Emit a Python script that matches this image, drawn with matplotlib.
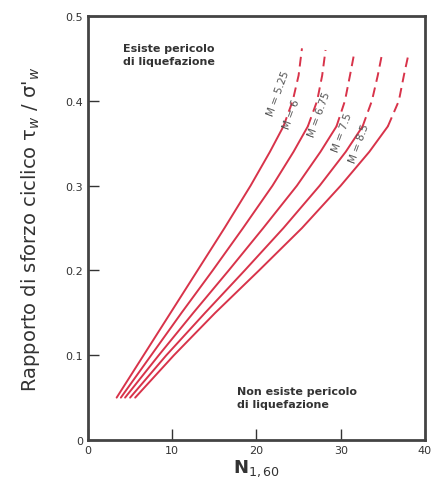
import matplotlib.pyplot as plt

# curve data (N1,60 , tau/sigma'); points after index 7 are dashed
magnitudes = ['M = 5.25', 'M = 6', 'M = 6.75', 'M = 7.5', 'M = 8.5']
tau_levels = [0.05, 0.10, 0.15, 0.20, 0.25, 0.30, 0.34, 0.37, 0.40, 0.43]
tau_top = [0.462, 0.460, 0.456, 0.455, 0.453]
n_vals = [
    [3.4, 6.6, 9.8, 13.0, 16.2, 19.3, 21.6, 23.2, 24.3, 25.0, 25.4],
    [3.9, 7.5, 11.1, 14.8, 18.4, 21.9, 24.4, 26.1, 27.2, 27.8, 28.2],
    [4.4, 8.4, 12.5, 16.7, 20.8, 24.8, 27.6, 29.5, 30.5, 31.1, 31.6],
    [5.0, 9.3, 13.9, 18.6, 23.2, 27.5, 30.6, 32.6, 33.7, 34.4, 34.9],
    [5.6, 10.2, 15.1, 20.3, 25.4, 30.0, 33.4, 35.6, 36.9, 37.5, 38.0],
]
label_pos = [(22.6, 0.41), (24.2, 0.385), (27.4, 0.385), (30.2, 0.363), (32.2, 0.351)]
split = 7

red = '#d8334a'
dark = '#333333'

fig = plt.figure(figsize=(4.37, 4.85), dpi=100)
ax = fig.add_axes([0.2014, 0.0907, 0.771, 0.874])

for n, top in zip(n_vals, tau_top):
    t = tau_levels + [top]
    ax.plot(n[:split + 1], t[:split + 1], color=red, linewidth=1.4, solid_capstyle='round')
    ax.plot(n[split:], t[split:], color=red, linewidth=1.4, linestyle=(0, (5, 3)))

for lab, (x, y) in zip(magnitudes, label_pos):
    ax.text(x, y, lab, rotation=70, fontsize=7.5, color='#555555',
            ha='center', va='center')

ax.text(4.2, 0.455, 'Esiste pericolo\ndi liquefazione', fontsize=8,
        fontweight='bold', color=dark, va='center', linespacing=1.35)
ax.text(17.7, 0.05, 'Non esiste pericolo\ndi liquefazione', fontsize=8,
        fontweight='bold', color=dark, va='center', linespacing=1.35)

ax.set_xlim(0, 40)
ax.set_ylim(0, 0.5)
ax.set_xticks([0, 10, 20, 30, 40])
ax.set_yticks([0, 0.1, 0.2, 0.3, 0.4, 0.5])
ax.set_xticklabels(['0', '10', '20', '30', '40'])
ax.set_yticklabels(['0', '0.1', '0.2', '0.3', '0.4', '0.5'])
ax.tick_params(direction='in', length=8, width=1, colors=dark, labelsize=8,
               top=False, right=False)
for s in ax.spines.values():
    s.set_linewidth(2)
    s.set_color('#444444')

ax.set_xlabel(r'N$_{1,60}$', fontsize=13, fontweight='bold', color=dark, labelpad=2)
ax.set_ylabel(r"Rapporto di sforzo ciclico τ$_w$ / σ'$_w$", fontsize=14,
              color=dark, labelpad=17)

fig.savefig('out.png', dpi=100)
